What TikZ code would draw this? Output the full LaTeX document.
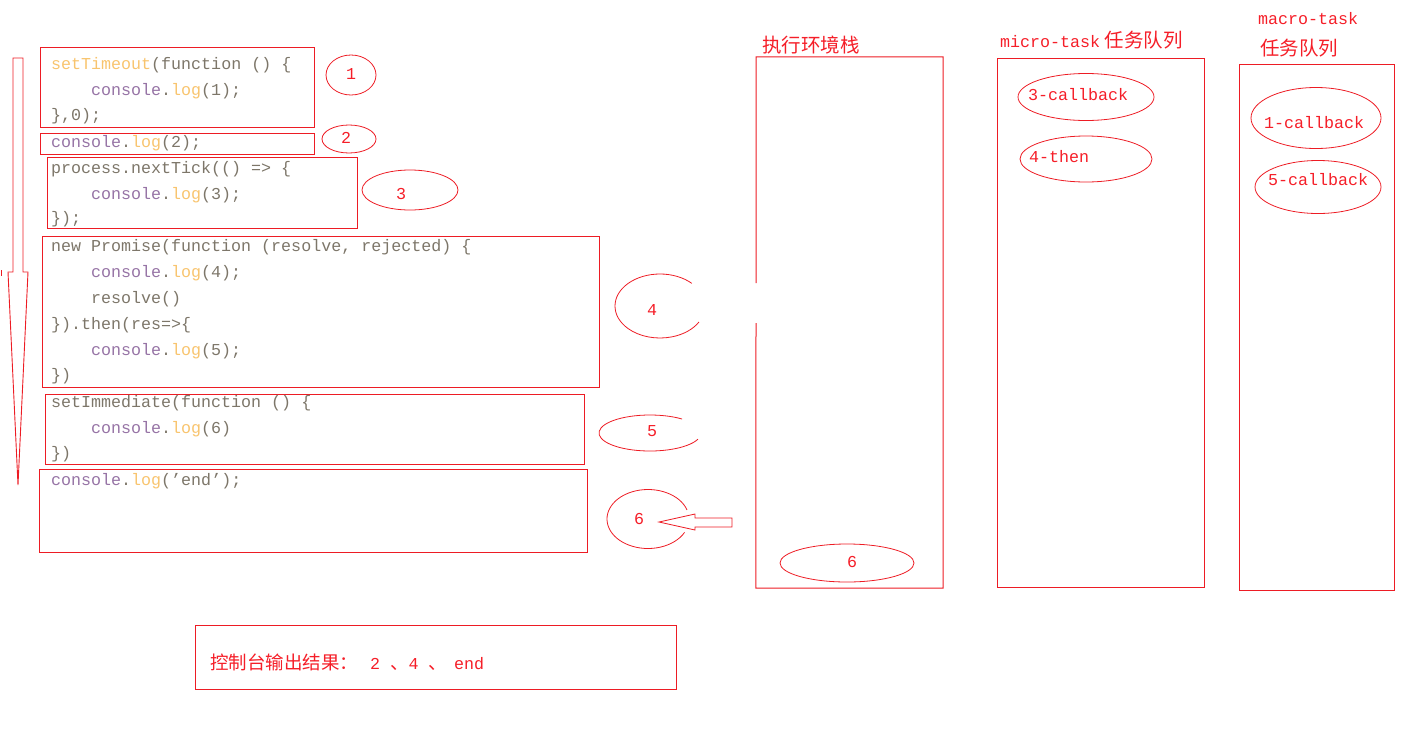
\documentclass[tikz,border=0pt]{standalone}
\usepackage{fontspec}
\usetikzlibrary{shapes.geometric}
\newfontfamily\cjk{Noto Sans CJK SC}
\newfontfamily\mono{Liberation Mono}
\definecolor{bred}{RGB}{237,28,36}
\definecolor{tred}{RGB}{245,30,40}
\definecolor{cgray}{RGB}{125,118,105}
\definecolor{corange}{RGB}{248,196,110}
\definecolor{cpurple}{RGB}{150,115,165}
\newcommand{\cn}{\textcolor{cpurple}{console}\textcolor{cgray}{.}\textcolor{corange}{log}}
\newcommand{\mn}{\mono\fontsize{16.67}{20}\selectfont}
\tikzset{
  box/.style={draw=bred, line width=1pt, rectangle, inner sep=0pt},
  ell/.style={draw=bred, line width=0.8pt, ellipse, inner sep=0pt},
  code/.style={anchor=west, inner sep=0pt, text=cgray, font=\mn, text height=12pt, text depth=4pt},
  lbl/.style={inner sep=0pt, text=tred, font=\mn, text height=12pt, text depth=4pt},
  cjklbl/.style={anchor=west, inner sep=0pt, text=tred, font=\cjk\fontsize{19.5}{22}\selectfont},
}
\begin{document}
\begin{tikzpicture}[x=1pt,y=-1pt]
\useasboundingbox (0,0) rectangle (1413,734);
% left arrow
\draw[bred, line width=0.9pt] (13,58) -- (23,58) -- (23,272) -- (28,272) -- (18,485) -- (8,272) -- (13,272) -- cycle;
\draw[bred, line width=1pt] (1,270) -- (1,276);
% code boxes
\node[box, minimum width=274, minimum height=80] (b1) at (177,87) {};
\node[box, minimum width=274, minimum height=21] (b2) at (177,143.5) {};
\node[box, minimum width=310, minimum height=71] (b3) at (202,192.5) {};
\node[box, minimum width=557, minimum height=151] (b4) at (320.5,311.5) {};
\node[box, minimum width=539, minimum height=70] (b5) at (314.5,429) {};
\node[box, minimum width=548, minimum height=83] (b6) at (313,510.5) {};
% code text
\node[code] (l1) at (51,65) {\textcolor{corange}{setTimeout}(function () \{};
\node[code] (l2) at (91,91) {\cn(1);};
\node[code] (l3) at (51,116) {\},0);};
\node[code] (l4) at (51,143) {\cn(2);};
\node[code] (l5) at (51,169) {process.nextTick(() => \{};
\node[code] (l6) at (91,195) {\cn(3);};
\node[code] (l7) at (51,219) {\});};
\node[code] (l8) at (51,247) {new Promise(function (resolve, rejected) \{};
\node[code] (l9) at (91,273) {\cn(4);};
\node[code] (l10) at (91,299) {resolve()};
\node[code] (l11) at (51,325) {\}).then(res=>\{};
\node[code] (l12) at (91,351) {\cn(5);};
\node[code] (l13) at (51,376) {\})};
\node[code] (l14) at (51,403) {setImmediate(function () \{};
\node[code] (l15) at (91,429) {\cn(6)};
\node[code] (l16) at (51,454) {\})};
\node[code] (l17) at (51,481) {\cn(’end’);};
% numbered ellipses
\node[ell, minimum width=50, minimum height=40] (e1) at (351,75) {};
\node[lbl] (n1) at (351,75) {1};
\node[ell, minimum width=54, minimum height=28] (e2) at (349,139) {};
\node[lbl] (n2) at (346,139) {2};
\node[ell, minimum width=96, minimum height=40] (e3) at (410,190) {};
\node[lbl] (n3) at (401,195) {3};
\coordinate (c4) at (660,306);
\draw[bred, line width=0.8pt] (c4) ++(-45:45 and 32) arc[start angle=-45, end angle=-330, x radius=45, y radius=32];
\node[lbl] (n4) at (652,311) {4};
\coordinate (c5) at (650,433);
\draw[bred, line width=0.8pt] (c5) ++(-51:51 and 18) arc[start angle=-51, end angle=-340, x radius=51, y radius=18];
\node[lbl] (n5) at (652,432) {5};
\coordinate (c6) at (648,519);
\draw[bred, line width=0.8pt] (c6) ++(-18:41 and 29.5) arc[start angle=-18, end angle=-333, x radius=41, y radius=29.5];
\node[lbl] (n6) at (639,520) {6};
% block arrow into 6
\coordinate (tip) at (659,522);
\draw[bred, line width=0.8pt] (tip) -- (695,514) -- (695,518) -- (732,518) -- (732,527) -- (695,527) -- (695,530) -- cycle;
% execution stack
\node[minimum width=187, minimum height=531, inner sep=0pt] (stack) at (849.5,322.5) {};
\coordinate (gA) at (756,283);
\coordinate (gB) at (756,323);
\draw[bred, line width=1pt] (gA) |- (stack.north east) |- (stack.south west) -- (gB);
\node[cjklbl] (tstack) at (762,45) {执行环境栈};
\node[ell, minimum width=134, minimum height=38] (es6) at (847,563) {};
\node[lbl] (ns6) at (852,563) {6};
% micro-task queue
\node[box, minimum width=207, minimum height=529] (micro) at (1100.5,322.5) {};
\node[cjklbl] (tmicro) at (1000,40) {{\mn micro-task} 任务队列};
\node[ell, minimum width=136, minimum height=47] (em3) at (1086,97) {};
\node[lbl, anchor=west] (tm3) at (1028,96) {3-callback};
\node[ell, minimum width=132, minimum height=46] (em4) at (1086,159) {};
\node[lbl, anchor=west] (tm4) at (1029,158) {4-then};
% macro-task queue
\node[box, minimum width=155, minimum height=526] (macro) at (1316.5,327) {};
\node[lbl, anchor=west] (tmacro1) at (1258,20) {macro-task};
\node[cjklbl] (tmacro2) at (1260,48) {任务队列};
\node[ell, minimum width=130, minimum height=61] (ea1) at (1316,118) {};
\node[lbl, anchor=west] (ta1) at (1264,124) {1-callback};
\node[ell, minimum width=126, minimum height=53] (ea5) at (1318,187) {};
\node[lbl, anchor=west] (ta5) at (1268,181) {5-callback};
% result
\node[box, minimum width=481, minimum height=64] (res) at (435.5,657) {};
\node[cjklbl, font=\cjk\fontsize{18.5}{22}\selectfont] (tres) at (210,662) {控制台输出结果：\hspace{12pt}{\mn 2 }、{\mn 4 }、\hspace{7pt}{\mn end}};
\end{tikzpicture}
\end{document}
